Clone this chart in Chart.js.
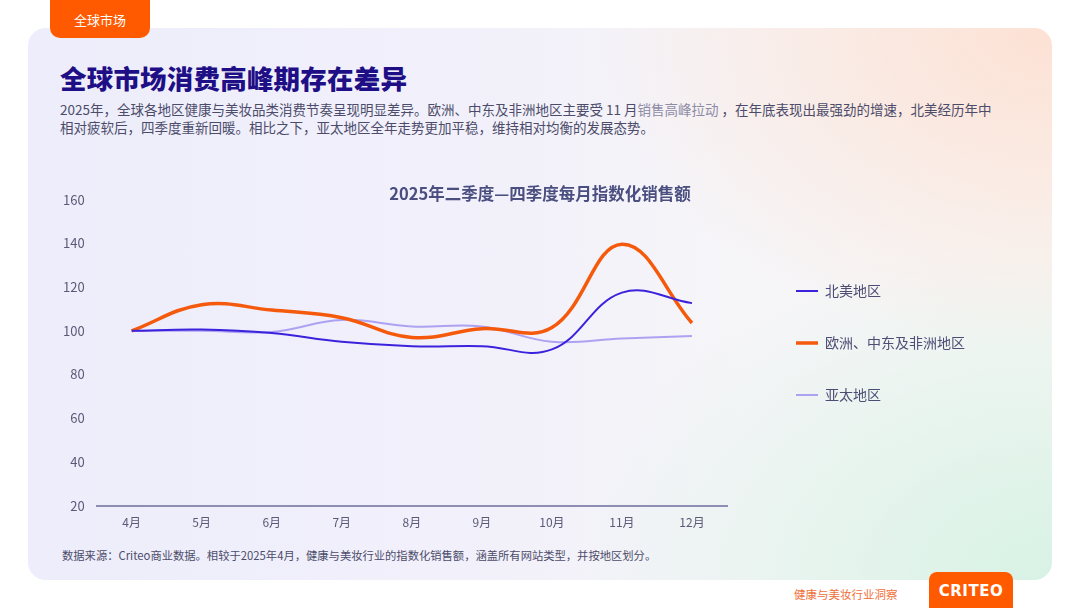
<!DOCTYPE html>
<html lang="zh-CN">
<head>
<meta charset="utf-8">
<script src="https://cdn.jsdelivr.net/npm/chart.js@4.4.1/dist/chart.umd.min.js"></script>
<style>
  html, body { margin: 0; padding: 0; }
  body { width: 1080px; height: 608px; position: relative; overflow: hidden; background: #ffffff;
         font-family: "Noto Sans CJK SC", "Noto Sans", sans-serif; }
  .card { position: absolute; left: 28px; top: 28px; width: 1024px; height: 552px; border-radius: 18px;
          background:
            radial-gradient(ellipse 460px 320px at 100% 0%, rgba(253,224,210,0.95), rgba(253,224,210,0) 100%),
            radial-gradient(ellipse 480px 340px at 100% 100%, rgba(214,242,228,0.95), rgba(214,242,228,0) 100%),
            linear-gradient(90deg, #ededfb 0%, #f1f0fb 40%, #f6f5f8 70%, #f7f6f5 100%);
  }
  .tab { position: absolute; left: 50px; top: 0; width: 100px; height: 38px; background: #ff5a00;
         border-radius: 0 0 10px 10px; color: #fff; font-size: 13px; line-height: 40px; text-align: center; z-index: 2; }
  .title { position: absolute; left: 60px; top: 58px; font-size: 26.5px; font-weight: 900; color: #1f0f86;
           letter-spacing: 0.2px; white-space: nowrap; }
  .sub { position: absolute; left: 60px; top: 100px; font-size: 13.5px; line-height: 18px; color: #4c4c6a; white-space: nowrap; }
  .sub .light { color: #8c8ca6; }
  .src { position: absolute; left: 62px; top: 547px; font-size: 11.3px; color: #4c4c6a; white-space: nowrap; }
  .foot { position: absolute; left: 794px; top: 586px; font-size: 11.5px; color: #f0703c; white-space: nowrap; }
  .logo { position: absolute; left: 929px; top: 572px; width: 84px; height: 40px; background: #ff5a00;
          border-radius: 8px 8px 0 0; color: #fff; font-family: "DejaVu Sans", sans-serif; font-weight: bold;
          font-size: 15px; line-height: 38px; text-align: center; letter-spacing: 0.5px; }
  #wrap { position: absolute; left: 51px; top: 180px; width: 978px; height: 360px; }
</style>
</head>
<body>
<div class="card"></div>
<div class="tab">全球市场</div>
<div class="title">全球市场消费高峰期存在差异</div>
<div class="sub">2025年，全球各地区健康与美妆品类消费节奏呈现明显差异。欧洲、中东及非洲地区主要受 11 月<span class="light">销售高峰拉动</span> ，在年底表现出最强劲的增速，北美经历年中<br>相对疲软后，四季度重新回暖。相比之下，亚太地区全年走势更加平稳，维持相对均衡的发展态势。</div>
<div id="wrap"><canvas id="c"></canvas></div>
<div class="src">数据来源：Criteo商业数据。相较于2025年4月，健康与美妆行业的指数化销售额，涵盖所有网站类型，并按地区划分。</div>
<div class="foot">健康与美妆行业洞察</div>
<div class="logo">CRITEO</div>
<script>
const months = ['4月', '5月', '6月', '7月', '8月', '9月', '10月', '11月', '12月'];
const northAmerica = [100, 100.6, 99, 95, 93, 93, 91.5, 117.5, 112.7];
const emea = [100, 112, 109.5, 106, 97, 101, 101.5, 139.7, 103.6];
const apac = [100, 100, 99.5, 105, 102, 102, 95, 96.5, 97.7];
const seriesNames = ['北美地区', '欧洲、中东及非洲地区', '亚太地区'];
const chartTitle = '2025年二季度—四季度每月指数化销售额';

const FONT = '"Noto Sans CJK SC", "Noto Sans", sans-serif';
const LEGEND_GAP = 31;
const LEGEND_DY = -17;

const legendShift = {
  id: 'legendShift',
  afterLayout(chart) {
    const lg = chart.legend;
    if (!lg) return;
    const dx = chart.chartArea.right + LEGEND_GAP - lg.left;
    lg.left += dx;
    lg.right = Math.max(lg.right + dx, chart.width);
    lg.width = lg.right - lg.left;
    lg.top += LEGEND_DY; lg.bottom += LEGEND_DY;
  }
};

new Chart(document.getElementById('c'), {
  type: 'line',
  data: {
    labels: months,
    datasets: [
      { label: seriesNames[0], data: northAmerica, borderColor: '#3b22dc', backgroundColor: '#3b22dc', borderWidth: 2, tension: 0.4, pointRadius: 0 },
      { label: seriesNames[1], data: emea, borderColor: '#f55a0c', backgroundColor: '#f55a0c', borderWidth: 3.5, tension: 0.4, pointRadius: 0 },
      { label: seriesNames[2], data: apac, borderColor: '#ada2f2', backgroundColor: '#ada2f2', borderWidth: 2, tension: 0.4, pointRadius: 0 }
    ]
  },
  options: {
    responsive: true,
    maintainAspectRatio: false,
    animation: false,
    layout: { padding: 0 },
    plugins: {
      title: { display: true, text: chartTitle, color: '#4a4f80', font: { family: FONT, size: 16.5, weight: 'bold' }, padding: { top: -2, bottom: -4 } },
      legend: {
        position: 'right', align: 'center', maxWidth: 150,
        labels: { usePointStyle: true, pointStyle: 'line', pointStyleWidth: 22, padding: 38, color: '#4d4d73', font: { family: FONT, size: 14 } }
      },
      tooltip: { enabled: false }
    },
    scales: {
      x: {
        offset: true,
        grid: { display: false, drawTicks: false },
        border: { display: true, color: '#8e8eb2', width: 2 },
        ticks: { color: '#5a5a78', font: { family: FONT, size: 12 }, padding: 10, maxRotation: 0 }
      },
      y: {
        min: 20, max: 160,
        grid: { display: false, drawTicks: false },
        border: { display: false },
        ticks: { stepSize: 20, color: '#5a5a78', font: { family: FONT, size: 13 }, padding: 12 }
      },
      y2: {
        position: 'right', display: true,
        grid: { display: false, drawTicks: false }, border: { display: false },
        ticks: { display: false },
        afterFit(scale) { scale.width = 152; }
      }
    }
  },
  plugins: [legendShift]
});
</script>
</body>
</html>
